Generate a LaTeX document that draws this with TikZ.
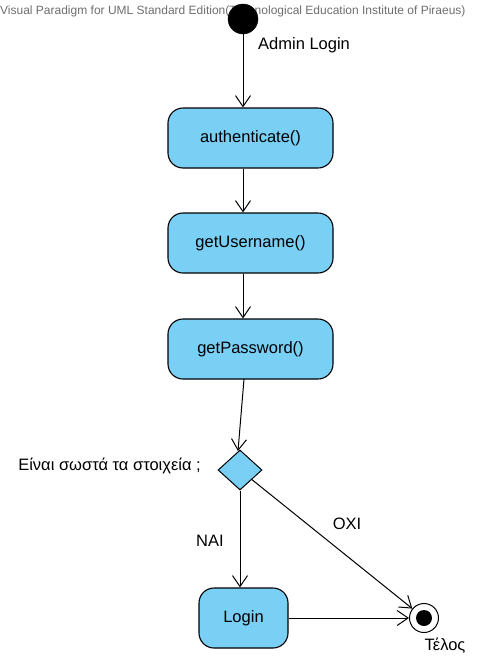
\documentclass[tikz,border=0pt]{standalone}
\usepackage{fontspec}
\setmainfont{Liberation Sans}
\usetikzlibrary{arrows.meta,shapes.geometric}
\definecolor{actfill}{RGB}{122,207,245}
\definecolor{wm}{RGB}{110,110,110}
\tikzset{
  action/.style={draw=black, line width=1.1pt, fill=actfill, rounded corners=15pt, minimum width=165pt, minimum height=60pt, inner sep=0pt, font=\fontsize{16.5}{18}\selectfont},
  flow/.style={draw=black, line width=1pt, -{Straight Barb[length=11pt,width=15pt,line width=1pt]}},
  lbl/.style={font=\fontsize{16.5}{18}\selectfont, inner sep=0pt},
}
\begin{document}
\begin{tikzpicture}[x=1pt,y=-1pt]
\useasboundingbox (0,0) rectangle (488,662);
\node[anchor=west, text=wm, font=\fontsize{12}{13}\selectfont, inner sep=0pt] (wmark) at (0,11) {Visual Paradigm for UML Standard Edition(Technological Education Institute of Piraeus)};
\node[circle, fill=black, draw=black, minimum size=30pt, inner sep=0pt] (start) at (243,19) {};
\node[action] (auth) at (250.5,138) {authenticate()};
\node[action] (user) at (250.5,243) {getUsername()};
\node[action] (pass) at (250.5,349) {getPassword()};
\node[diamond, draw=black, line width=1pt, fill=actfill, minimum width=44pt, minimum height=40pt, inner sep=0pt] (dec) at (240,470) {};
\node[action, minimum width=89pt] (login) at (243.5,618) {Login};
\node[circle, draw=black, line width=1pt, fill=white, minimum size=29pt, inner sep=0pt] (end) at (424,618) {};
\node[circle, fill=black, minimum size=16pt, inner sep=0pt] (endin) at (424,618) {};
\node[lbl, anchor=west] (admin) at (258,45) {Admin Login};
\node[lbl, anchor=east] (q) at (201,466) {Είναι σωστά τα στοιχεία ;};
\node[lbl] (nai) at (210,541) {ΝΑΙ};
\node[lbl] (oxi) at (347,524) {ΟΧΙ};
\node[lbl] (telos) at (445,646) {Τέλος};
\coordinate (p1) at (244,379);
\coordinate (d1) at (238,451);
\draw[flow] (start) -- (start |- auth.north);
\draw[flow] (start |- auth.south) -- (start |- user.north);
\draw[flow] (start |- user.south) -- (start |- pass.north);
\draw[flow] (p1) -- (d1);
\draw[flow] (dec.south) -- (dec.south |- login.north);
\draw[flow] (dec) -- (end);
\draw[flow] (login) -- (end);
\end{tikzpicture}
\end{document}
